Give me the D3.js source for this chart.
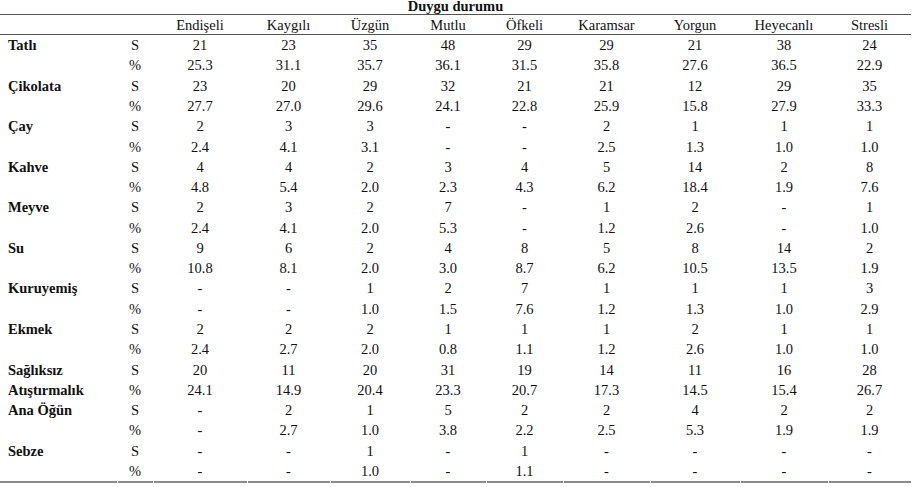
<!DOCTYPE html>
<html>
<head>
<meta charset="utf-8">
<script src="https://cdn.jsdelivr.net/npm/d3@7"></script>
<style>
  body { margin: 0; background: #fff; }
  svg { display: block; font-family: "Liberation Serif", "Times New Roman", serif; }
  .cell { font-size: 14.5px; fill: #111; }
  .food { font-size: 14.5px; font-weight: bold; fill: #111; }
</style>
</head>
<body>
<div id="table-area"></div>
<script>
var emotions = ["Endişeli", "Kaygılı", "Üzgün", "Mutlu", "Öfkeli", "Karamsar", "Yorgun", "Heyecanlı", "Stresli"];

// "|" marks where a long label wraps onto the % row
var foods = ["Tatlı", "Çikolata", "Çay", "Kahve", "Meyve", "Su", "Kuruyemiş", "Ekmek",
             "Sağlıksız|Atıştırmalık", "Ana Öğün", "Sebze"];

// null = "-"
var counts = [
  [21, 23, 35, 48, 29, 29, 21, 38, 24],
  [23, 20, 29, 32, 21, 21, 12, 29, 35],
  [2, 3, 3, null, null, 2, 1, 1, 1],
  [4, 4, 2, 3, 4, 5, 14, 2, 8],
  [2, 3, 2, 7, null, 1, 2, null, 1],
  [9, 6, 2, 4, 8, 5, 8, 14, 2],
  [null, null, 1, 2, 7, 1, 1, 1, 3],
  [2, 2, 2, 1, 1, 1, 2, 1, 1],
  [20, 11, 20, 31, 19, 14, 11, 16, 28],
  [null, 2, 1, 5, 2, 2, 4, 2, 2],
  [null, null, 1, null, 1, null, null, null, null]
];

var percents = [
  [25.3, 31.1, 35.7, 36.1, 31.5, 35.8, 27.6, 36.5, 22.9],
  [27.7, 27.0, 29.6, 24.1, 22.8, 25.9, 15.8, 27.9, 33.3],
  [2.4, 4.1, 3.1, null, null, 2.5, 1.3, 1.0, 1.0],
  [4.8, 5.4, 2.0, 2.3, 4.3, 6.2, 18.4, 1.9, 7.6],
  [2.4, 4.1, 2.0, 5.3, null, 1.2, 2.6, null, 1.0],
  [10.8, 8.1, 2.0, 3.0, 8.7, 6.2, 10.5, 13.5, 1.9],
  [null, null, 1.0, 1.5, 7.6, 1.2, 1.3, 1.0, 2.9],
  [2.4, 2.7, 2.0, 0.8, 1.1, 1.2, 2.6, 1.0, 1.0],
  [24.1, 14.9, 20.4, 23.3, 20.7, 17.3, 14.5, 15.4, 26.7],
  [null, 2.7, 1.0, 3.8, 2.2, 2.5, 5.3, 1.9, 1.9],
  [null, null, 1.0, null, 1.1, null, null, null, null]
];

var statLabels = ["S", "%"];
var title = "Duygu durumu";

// layout
var width = 918, height = 487;
var tableRight = 911;
var colEdges = [0, 117, 153, 247, 330, 410, 486, 563, 650, 740, 828, tableRight];
var colKeys = ["food", "stat"].concat(emotions);

var colX = d3.scaleOrdinal()
    .domain(colKeys)
    .range(colKeys.map(function(k, i) { return (colEdges[i] + colEdges[i + 1]) / 2; }));

// flat rows: each food gives an S row and a % row
var rows = [];
foods.forEach(function(f, i) {
  var parts = f.split("|");
  rows.push({ key: f + "-S", label: parts[0], stat: statLabels[0], values: counts[i], fmt: d3.format("d") });
  rows.push({ key: f + "-P", label: parts[1] || "", stat: statLabels[1], values: percents[i], fmt: d3.format(".1f") });
});

var y = d3.scaleBand()
    .domain(rows.map(function(r) { return r.key; }))
    .range([35, 481]);

var svg = d3.select("#table-area").append("svg")
    .attr("width", width)
    .attr("height", height);

// rules
svg.append("line")
    .attr("x1", 0).attr("x2", tableRight)
    .attr("y1", 14.5).attr("y2", 14.5)
    .attr("stroke", "#555").attr("stroke-width", 1);
svg.append("line")
    .attr("x1", 0).attr("x2", tableRight)
    .attr("y1", 34.5).attr("y2", 34.5)
    .attr("stroke", "#555").attr("stroke-width", 1);
svg.append("g").selectAll("line")
    .data(d3.range(colEdges.length - 1))
  .enter().append("line")
    .attr("x1", function(i) { return colEdges[i] + (i ? 1 : 0); })
    .attr("x2", function(i) { return colEdges[i + 1]; })
    .attr("y1", 482).attr("y2", 482)
    .attr("stroke", "#8c8c8c").attr("stroke-width", 2);

// title
svg.append("text")
    .attr("class", "food")
    .attr("x", tableRight / 2)
    .attr("y", 10.5)
    .attr("text-anchor", "middle")
    .text(title);

// header
svg.append("g").selectAll("text")
    .data(emotions)
  .enter().append("text")
    .attr("class", "cell")
    .attr("x", function(d) { return colX(d); })
    .attr("y", 25)
    .attr("dy", "0.35em")
    .attr("text-anchor", "middle")
    .text(function(d) { return d; });

var row = svg.append("g").selectAll("g")
    .data(rows)
  .enter().append("g")
    .attr("transform", function(r) { return "translate(0," + (y(r.key) + y.bandwidth() / 2) + ")"; });

row.append("text")
    .attr("class", "food")
    .attr("x", 8)
    .attr("dy", "0.35em")
    .text(function(r) { return r.label; });

row.append("text")
    .attr("class", "cell")
    .attr("x", colX("stat"))
    .attr("dy", "0.35em")
    .attr("text-anchor", "middle")
    .text(function(r) { return r.stat; });

row.selectAll("text.val")
    .data(function(r) { return r.values.map(function(v, j) { return { v: v, col: emotions[j], fmt: r.fmt }; }); })
  .enter().append("text")
    .attr("class", "cell val")
    .attr("x", function(d) { return colX(d.col); })
    .attr("dy", "0.35em")
    .attr("text-anchor", "middle")
    .text(function(d) { return d.v == null ? "-" : d.fmt(d.v); });
</script>
</body>
</html>
